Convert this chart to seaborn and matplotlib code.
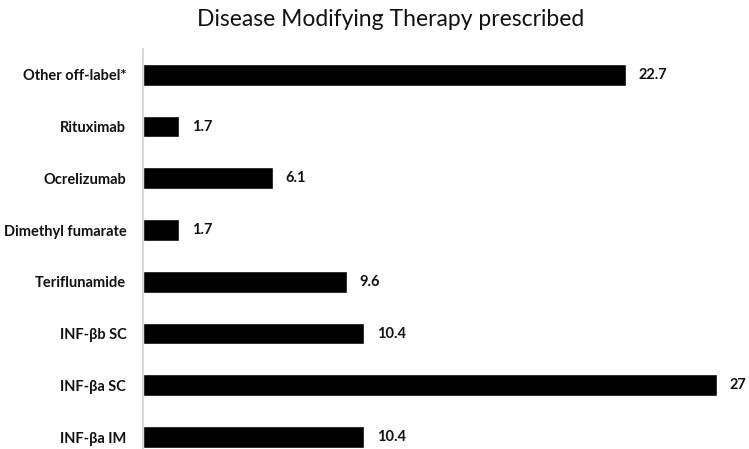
import matplotlib
matplotlib.use("Agg")
import matplotlib.pyplot as plt
import seaborn as sns
import pandas as pd

therapies = ["Other off-label*", "Rituximab", "Ocrelizumab", "Dimethyl fumarate",
             "Teriflunamide", "INF-βb SC", "INF-βa SC", "INF-βa IM"]
percent = [22.7, 1.7, 6.1, 1.7, 9.6, 10.4, 27, 10.4]
value_labels = ["22.7", "1.7", "6.1", "1.7", "9.6", "10.4", "27", "10.4"]

df = pd.DataFrame({"therapy": therapies, "percent": percent})

sns.set_style("white")
plt.rcParams["font.family"] = ["Lato", "DejaVu Sans"]

fig = plt.figure(figsize=(7.49, 4.49), dpi=100)
ax = fig.add_axes([143 / 749, 0, (749 - 143) / 749, 400 / 449])

sns.barplot(data=df, x="percent", y="therapy", orient="h", color="black",
            width=0.42, saturation=1, ax=ax)

ax.bar_label(ax.containers[0], labels=value_labels, padding=9,
             fontsize=10.5, fontweight="bold", color="#111111")

ax.set_xlim(0, 28.5)
ax.set_ylim(7.23, -0.5)
ax.set_xlabel("")
ax.set_ylabel("")
ax.set_xticks([])
ax.tick_params(axis="y", length=0, pad=12)
for lab in ax.get_yticklabels():
    lab.set_fontweight("bold")
    lab.set_fontsize(10.5)
    lab.set_color("#111111")

for side in ["top", "right", "bottom"]:
    ax.spines[side].set_visible(False)
ax.spines["left"].set_color("#d0d0d0")
ax.spines["left"].set_linewidth(1.2)

fig.text(391 / 749, 1 - 20 / 449, "Disease Modifying Therapy prescribed",
         ha="center", va="center", fontsize=16.5, color="#111111")

fig.savefig("out.png", dpi=100)
